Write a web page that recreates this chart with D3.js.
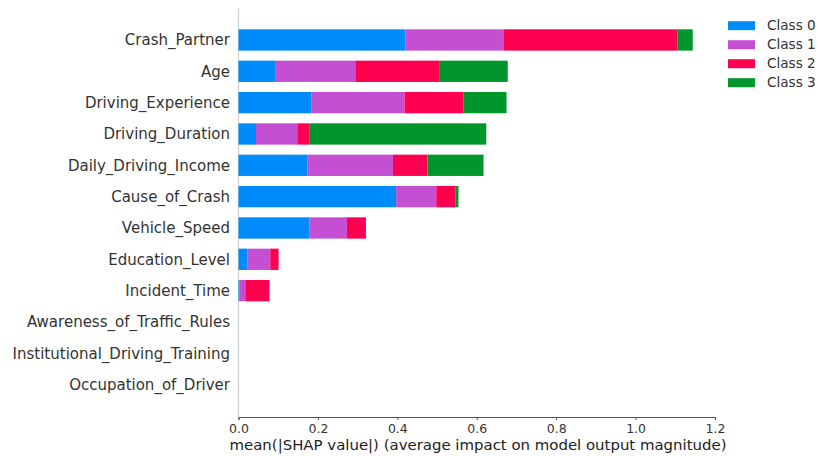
<!DOCTYPE html>
<html lang="en">
  <head>
    <meta charset="UTF-8" />
    <script src="https://d3js.org/d3.v7.min.js"></script>
    <style>
      body { margin: 0; background: #fff; }
      text { font-family: "DejaVu Sans", sans-serif; }
    </style>
  </head>
  <body>
    <svg id="chart" width="818" height="456"></svg>
    <script>
      // features, top to bottom
      const features = [
        "Crash_Partner", "Age", "Driving_Experience", "Driving_Duration",
        "Daily_Driving_Income", "Cause_of_Crash", "Vehicle_Speed",
        "Education_Level", "Incident_Time", "Awareness_of_Traffic_Rules",
        "Institutional_Driving_Training", "Occupation_of_Driver"
      ];
      const classes = ["Class 0", "Class 1", "Class 2", "Class 3"];
      const colors = ["#008bfb", "#c44fd2", "#ff0051", "#00962b"];
      // mean |SHAP| per class
      const class0 = [0.421, 0.094, 0.183, 0.044, 0.173, 0.397, 0.178, 0.023, 0.003, 0, 0, 0];
      const class1 = [0.246, 0.200, 0.235, 0.104, 0.216, 0.101, 0.095, 0.057, 0.014, 0, 0, 0];
      const class2 = [0.438, 0.213, 0.148, 0.030, 0.087, 0.049, 0.048, 0.021, 0.061, 0, 0, 0];
      const class3 = [0.039, 0.171, 0.109, 0.446, 0.141, 0.007, 0, 0, 0, 0, 0, 0];
      const xTicks = [0, 0.2, 0.4, 0.6, 0.8, 1.0, 1.2];

      const svg = d3.select("#chart");
      const rows = features.map((f, i) => ({
        feature: f,
        "Class 0": class0[i], "Class 1": class1[i],
        "Class 2": class2[i], "Class 3": class3[i]
      }));

      const x = d3.scaleLinear().domain([0, 1.2]).range([238.5, 715]);
      const y = d3.scaleBand().domain(features).range([24.3, 400.3])
        .paddingInner(0.32).paddingOuter(0.16);

      const stack = d3.stack().keys(classes)(rows);

      // vertical zero line
      svg.append("line")
        .attr("x1", x(0)).attr("x2", x(0))
        .attr("y1", 9).attr("y2", 417)
        .attr("stroke", "#cccccc").attr("stroke-width", 1.2);

      svg.append("g").selectAll("g")
        .data(stack)
        .join("g")
        .attr("fill", (d, i) => colors[i])
        .selectAll("rect")
        .data(d => d)
        .join("rect")
        .attr("x", d => x(d[0]))
        .attr("y", d => y(d.data.feature))
        .attr("width", d => Math.max(0, x(d[1]) - x(d[0])))
        .attr("height", y.bandwidth());

      // feature labels
      svg.append("g").selectAll("text")
        .data(features)
        .join("text")
        .attr("x", 230)
        .attr("y", d => y(d) + y.bandwidth() / 2)
        .attr("dy", "0.35em")
        .attr("text-anchor", "end")
        .attr("font-size", 15)
        .attr("fill", "#333")
        .text(d => d);

      // x axis
      const xAxis = svg.append("g")
        .attr("transform", "translate(0,417)")
        .call(d3.axisBottom(x).tickValues(xTicks).tickFormat(d3.format(".1f"))
          .tickSize(3).tickPadding(4));
      xAxis.select(".domain").attr("stroke", "#555").attr("stroke-width", 1);
      xAxis.selectAll(".tick line").attr("stroke", "#555");
      xAxis.selectAll(".tick text")
        .attr("font-size", 12.5).attr("fill", "#333")
        .attr("font-family", "DejaVu Sans, sans-serif");

      svg.append("text")
        .attr("x", 478).attr("y", 450)
        .attr("text-anchor", "middle")
        .attr("font-size", 14)
        .attr("textLength", 497)
        .attr("lengthAdjust", "spacingAndGlyphs")
        .attr("fill", "#222")
        .text("mean(|SHAP value|) (average impact on model output magnitude)");

      // legend
      const legend = svg.append("g").selectAll("g")
        .data(classes)
        .join("g")
        .attr("transform", (d, i) => `translate(728,${25.7 + i * 19})`);
      legend.append("rect")
        .attr("x", 0).attr("y", -4.5)
        .attr("width", 27).attr("height", 9)
        .attr("fill", (d, i) => colors[i]);
      legend.append("text")
        .attr("x", 39).attr("dy", "0.35em")
        .attr("font-size", 13.6)
        .attr("fill", "#333")
        .text(d => d);
    </script>
  </body>
</html>
